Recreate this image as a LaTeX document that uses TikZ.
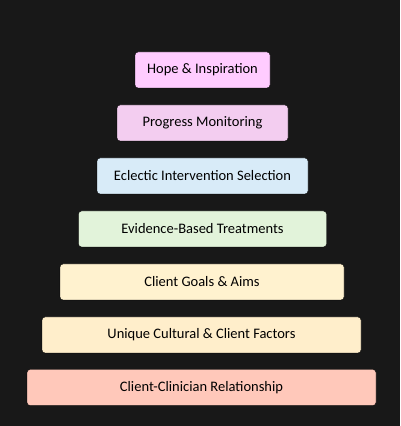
\documentclass[tikz,border=0pt]{standalone}
\usepackage{fontspec}
\setmainfont{Carlito}
\definecolor{bg}{HTML}{181818}
\definecolor{hopecol}{HTML}{FFCCFF}
\definecolor{progcol}{HTML}{F3CDF0}
\definecolor{eclcol}{HTML}{D8EBF8}
\definecolor{evidcol}{HTML}{E2F3DA}
\definecolor{goalcol}{HTML}{FFF2CF}
\definecolor{uniqcol}{HTML}{FFEECB}
\definecolor{relcol}{HTML}{FFC8BA}
\tikzset{
  level/.style={draw=black, rounded corners=3pt, minimum height=36pt, inner sep=0pt, font=\fontsize{14.5}{16}\selectfont, text=black}
}
\begin{document}
\begin{tikzpicture}[x=1pt,y=1pt]
\fill[bg] (0,0) rectangle (400,426);
\useasboundingbox (0,0) rectangle (400,426);

\node[level, fill=hopecol, minimum width=135pt] (hope) at (202.5,356) {Hope \& Inspiration};
\node[level, fill=progcol, minimum width=171pt] (prog) at (202.5,303) {Progress Monitoring};
\node[level, fill=eclcol, minimum width=211pt] (ecl) at (202.5,250) {Eclectic Intervention Selection};
\node[level, fill=evidcol, minimum width=248pt] (evid) at (202.5,197) {Evidence-Based Treatments};
\node[level, fill=goalcol, minimum width=284pt] (goal) at (202,144) {Client Goals \& Aims};
\node[level, fill=uniqcol, minimum width=319pt] (uniq) at (201.5,91) {Unique Cultural \& Client Factors};
\node[level, fill=relcol, minimum width=349pt] (rel) at (201.5,38.5) {Client-Clinician Relationship};

\end{tikzpicture}
\end{document}
